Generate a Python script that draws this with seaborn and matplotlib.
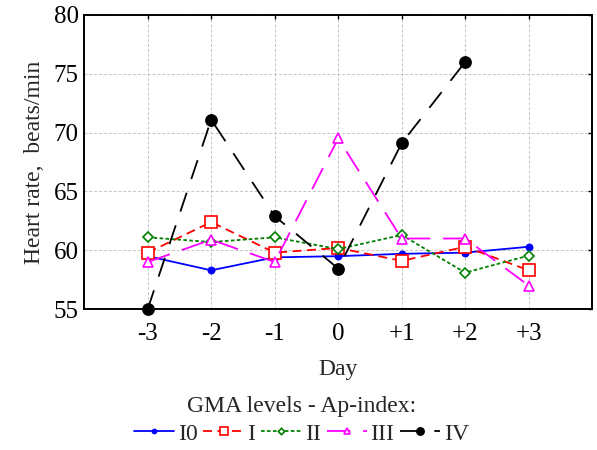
import numpy as np
import pandas as pd
import seaborn as sns
import matplotlib.pyplot as plt

sns.set_theme(style="white")
plt.rcParams['font.family'] = ['Liberation Serif', 'DejaVu Serif']

# data
days = [-3, -2, -1, 0, 1, 2, 3]
day_labels = ['-3', '-2', '-1', '0', '+1', '+2', '+3']
hr_i0 = [59.5, 58.3, 59.4, 59.5, 59.7, 59.8, 60.3]
hr_i = [59.8, 62.4, 59.8, 60.2, 59.1, 60.3, 58.3]
hr_ii = [61.1, 60.7, 61.1, 60.1, 61.3, 58.1, 59.55]
hr_iii = [59.0, 60.9, 59.0, 69.5, 61.0, 61.0, 57.0]
hr_iv = [55.0, 71.1, 62.9, 58.45, 69.1, 76.0]  # no value at +3

series = [
    # name, values, color, marker, marker size, face, linestyle
    ('I0', hr_i0, '#0000ff', 'o', 4.5, '#0000ff', '-'),
    ('I', hr_i, '#ff0000', 's', 8, 'white', (0, (5, 3))),
    ('II', hr_ii, '#008000', 'D', 5, 'white', (0, (2, 1.3))),
    ('III', hr_iii, '#ff00ff', '^', 7, 'white', (0, (13, 7))),
    ('IV', hr_iv, 'black', 'o', 8, 'black', (0, (11, 8))),
]

fig = plt.figure(figsize=(5.97, 4.5), dpi=100)
ax = fig.add_axes([0.141, 0.313, 0.851, 0.654])

for name, vals, col, mk, ms, fc, ls in series:
    sns.lineplot(x=days[:len(vals)], y=vals, ax=ax, color=col, marker=mk,
                 markersize=ms, markerfacecolor=fc, markeredgecolor=col,
                 markeredgewidth=1.2, linestyle=ls, linewidth=1.3,
                 label=name, legend=False, clip_on=False, zorder=3)

ax.set_xlim(-4, 4)
ax.set_ylim(55, 80)
ax.set_xticks(days)
ax.set_xticklabels(day_labels)
ax.set_yticks([55, 60, 65, 70, 75, 80])
ax.grid(True, color='#c4c4c4', linestyle=(0, (3, 2)), linewidth=0.7)
ax.tick_params(direction='in', length=3, width=1, top=True, right=True,
               labelsize=18, pad=4, colors='black', labelcolor='black')
ax.tick_params(axis='x', pad=10)
for sp in ax.spines.values():
    sp.set_color('black')
    sp.set_linewidth(1.4)

ax.set_xlabel('Day', fontsize=17, labelpad=10)
ax.set_ylabel('Heart rate,  beats/min', fontsize=17, labelpad=6)

handles = ax.get_lines()[:5]
labels = [s[0] for s in series]
leg = fig.legend(handles, labels, loc='lower center', bbox_to_anchor=(0.505, -0.035),
                 ncol=5, frameon=False, fontsize=17, handlelength=1.7,
                 columnspacing=0.25, handletextpad=0.15, markerscale=0.65,
                 title='GMA levels - Ap-index:', title_fontsize=17)
leg._legend_box.sep = 4

plt.savefig('out.png', dpi=100)
